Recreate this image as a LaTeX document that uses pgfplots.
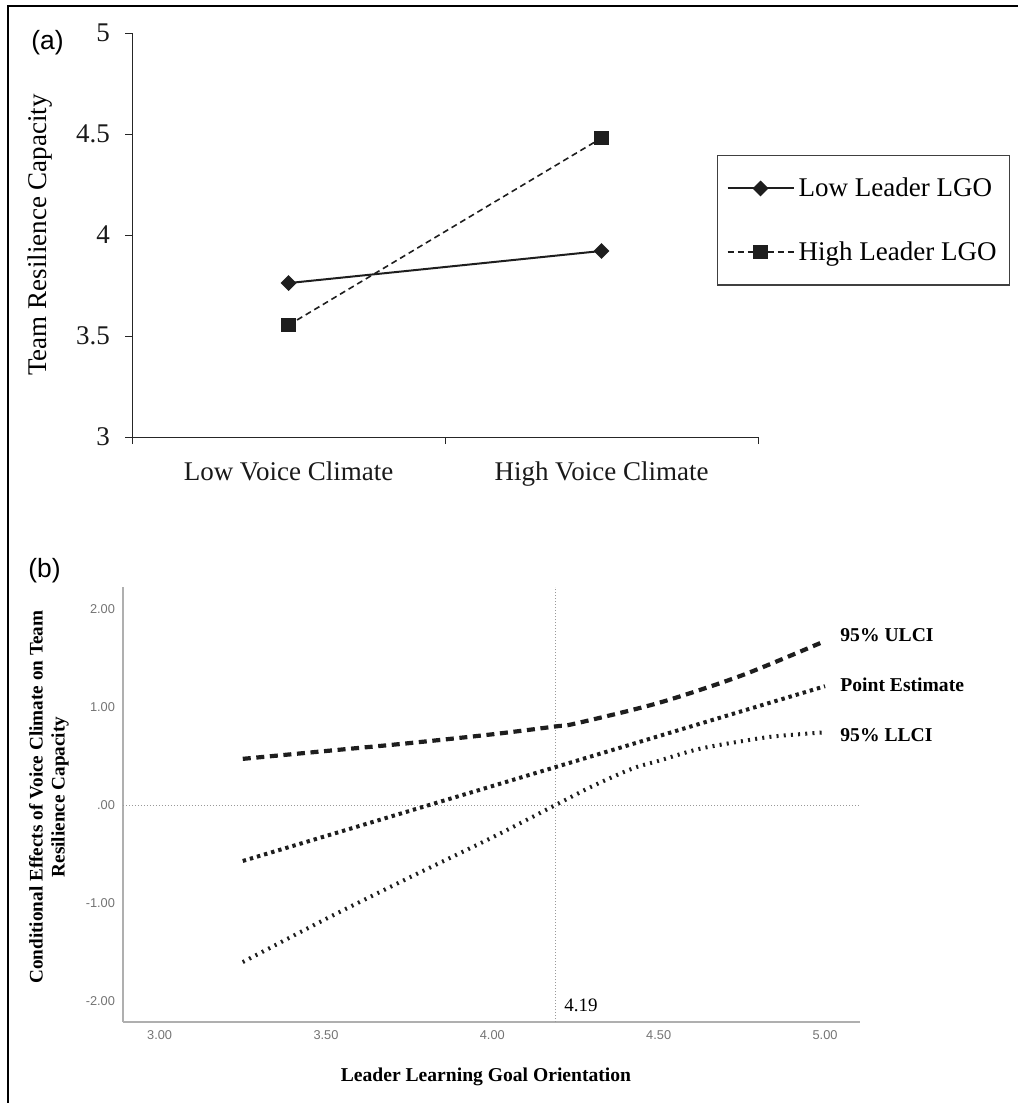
\documentclass[border=0pt]{standalone}
\usepackage{fontspec}
\setmainfont{Liberation Serif}
\newfontfamily\sansf{Liberation Sans}
\usepackage{pgfplots}
\pgfplotsset{compat=1.18}
\definecolor{axgray}{RGB}{175,175,175}
\definecolor{tkgray}{RGB}{115,115,115}
\definecolor{ink}{RGB}{30,30,30}
\begin{document}
\begin{tikzpicture}
\useasboundingbox (0,0) rectangle (509pt,-551.5pt);
\draw[line width=1pt,black] (4.2pt,-551.5pt) -- (4.2pt,-2.8pt) -- (509pt,-2.8pt);
% ---------------- Panel (a)
\begin{axis}[
  at={(66pt,-218.5pt)}, anchor=south west,
  scale only axis, width=313pt, height=202pt,
  xmin=0, xmax=2, ymin=3, ymax=5,
  axis x line*=bottom, axis y line*=left,
  axis line style={-, line width=0.5pt, color=black!85},
  tick style={line width=0.5pt, color=black!85},
  tick align=outside, major tick length=3.5pt,
  xtick={0,1,2}, xticklabels={},
  extra x ticks={0.5,1.5},
  extra x tick labels={Low Voice Climate, High Voice Climate},
  extra x tick style={major tick length=0pt, xticklabel style={yshift=-9pt}},
  ytick={3,3.5,4,4.5,5},
  yticklabels={3,3.5,4,4.5,5},
  yticklabel style={xshift=-4pt},
  ticklabel style={font=\fontsize{13.5}{15}\selectfont, color=black!90},
  /pgf/number format/assume math mode=true,
  every axis y label/.style={at={(axis description cs:-0.147,0.5)}, rotate=90, anchor=center},
  ylabel={\fontsize{13.5}{15}\selectfont Team Resilience Capacity},
  clip=false,
  legend cell align=left,
  legend style={at={(0.9345,0.698)}, anchor=north west, draw=black!75, line width=0.6pt,
    font=\fontsize{13.5}{15}\selectfont, inner xsep=4.5pt, inner ysep=9pt, row sep=17pt,
    nodes={inner xsep=2pt}},
  legend image code/.code={
    \draw[#1,mark repeat=2,mark phase=2] plot coordinates {(0pt,0pt) (16.5pt,0pt) (33pt,0pt)};
  },
]
\addplot[line width=1pt, color=ink, mark=square*, mark size=2.3pt,
  mark options={rotate=45, solid, fill=ink}]
  coordinates {(0.5,3.762) (1.5,3.921)};
\addlegendentry{Low Leader LGO}
\addplot[line width=0.8pt, color=ink, dash pattern=on 3pt off 2pt, mark=square*, mark size=3.2pt,
  mark options={solid, fill=ink}]
  coordinates {(0.5,3.554) (1.5,4.48)};
\addlegendentry{High Leader LGO}
\end{axis}
\node[anchor=west, font=\sansf\fontsize{13.2}{14}\selectfont, inner sep=0pt] at (15.5pt,-21.5pt) {(a)};
% ---------------- Panel (b)
\begin{axis}[
  at={(61.5pt,-511pt)}, anchor=south west,
  scale only axis, width=368.5pt, height=217.5pt,
  xmin=2.89, xmax=5.105, ymin=-2.21, ymax=2.22,
  axis x line*=bottom, axis y line*=left,
  axis line style={-, line width=1pt, color=axgray},
  major tick length=0pt,
  xtick={3,3.5,4,4.5,5}, xticklabels={3.00,3.50,4.00,4.50,5.00},
  ytick={-2,-1,0,1,2}, yticklabels={-2.00,-1.00,.00,1.00,2.00},
  ticklabel style={font=\sansf\fontsize{6.4}{7}\selectfont, color=tkgray},
  xticklabel style={yshift=-0.5pt},
  yticklabel style={xshift=-0.5pt},
  every axis y label/.style={at={(axis description cs:-0.1004,0.517)}, rotate=90, anchor=center},
  ylabel={\fontsize{9.6}{11.5}\selectfont\bfseries\begin{tabular}{c}Conditional Effects of Voice Climate on Team\\[-0.5pt] Resilience Capacity\end{tabular}},
  every axis x label/.style={at={(axis description cs:0.4925,-0.126)}, anchor=center},
  xlabel={\fontsize{9.8}{11}\selectfont\bfseries Leader Learning Goal Orientation},
  clip=false,
]
\addplot[color=gray!80, line width=0.5pt, dash pattern=on 0.6pt off 0.9pt]
  coordinates {(2.89,0) (5.105,0)};
\addplot[color=gray!80, line width=0.5pt, dash pattern=on 0.6pt off 0.9pt]
  coordinates {(4.19,-2.21) (4.19,2.22)};
% 95% ULCI
\addplot[color=ink, line width=2.1pt, dash pattern=on 4pt off 2.8pt, smooth, tension=0.5]
  coordinates {(3.25,0.47) (3.50,0.55) (3.75,0.63) (4.00,0.72) (4.19,0.80) (4.25,0.83) (4.50,1.04) (4.75,1.32) (5.00,1.67)};
% Point estimate
\addplot[color=ink, line width=2pt, dash pattern=on 1.7pt off 2pt]
  coordinates {(3.25,-0.57) (5.00,1.21)};
% 95% LLCI
\addplot[color=ink, line width=2pt, dash pattern=on 1pt off 2.6pt, smooth, tension=0.5]
  coordinates {(3.25,-1.60) (3.50,-1.16) (3.75,-0.74) (4.00,-0.33) (4.19,0.00) (4.30,0.19) (4.42,0.37) (4.50,0.45) (4.62,0.57) (4.75,0.65) (4.85,0.70) (5.00,0.74)};
\node[anchor=west, font=\fontsize{9.8}{11}\selectfont\bfseries, inner sep=0pt] at (axis cs:5.045,1.73) {95\% ULCI};
\node[anchor=west, font=\fontsize{9.8}{11}\selectfont\bfseries, inner sep=0pt] at (axis cs:5.045,1.22) {Point Estimate};
\node[anchor=west, font=\fontsize{9.8}{11}\selectfont\bfseries, inner sep=0pt] at (axis cs:5.045,0.71) {95\% LLCI};
\node[anchor=west, font=\fontsize{9.5}{11}\selectfont, inner sep=0pt] at (axis cs:4.215,-2.04) {4.19};
\end{axis}
\node[anchor=west, font=\sansf\fontsize{13.2}{14}\selectfont, inner sep=0pt] at (14pt,-285.5pt) {(b)};
\end{tikzpicture}
\end{document}
